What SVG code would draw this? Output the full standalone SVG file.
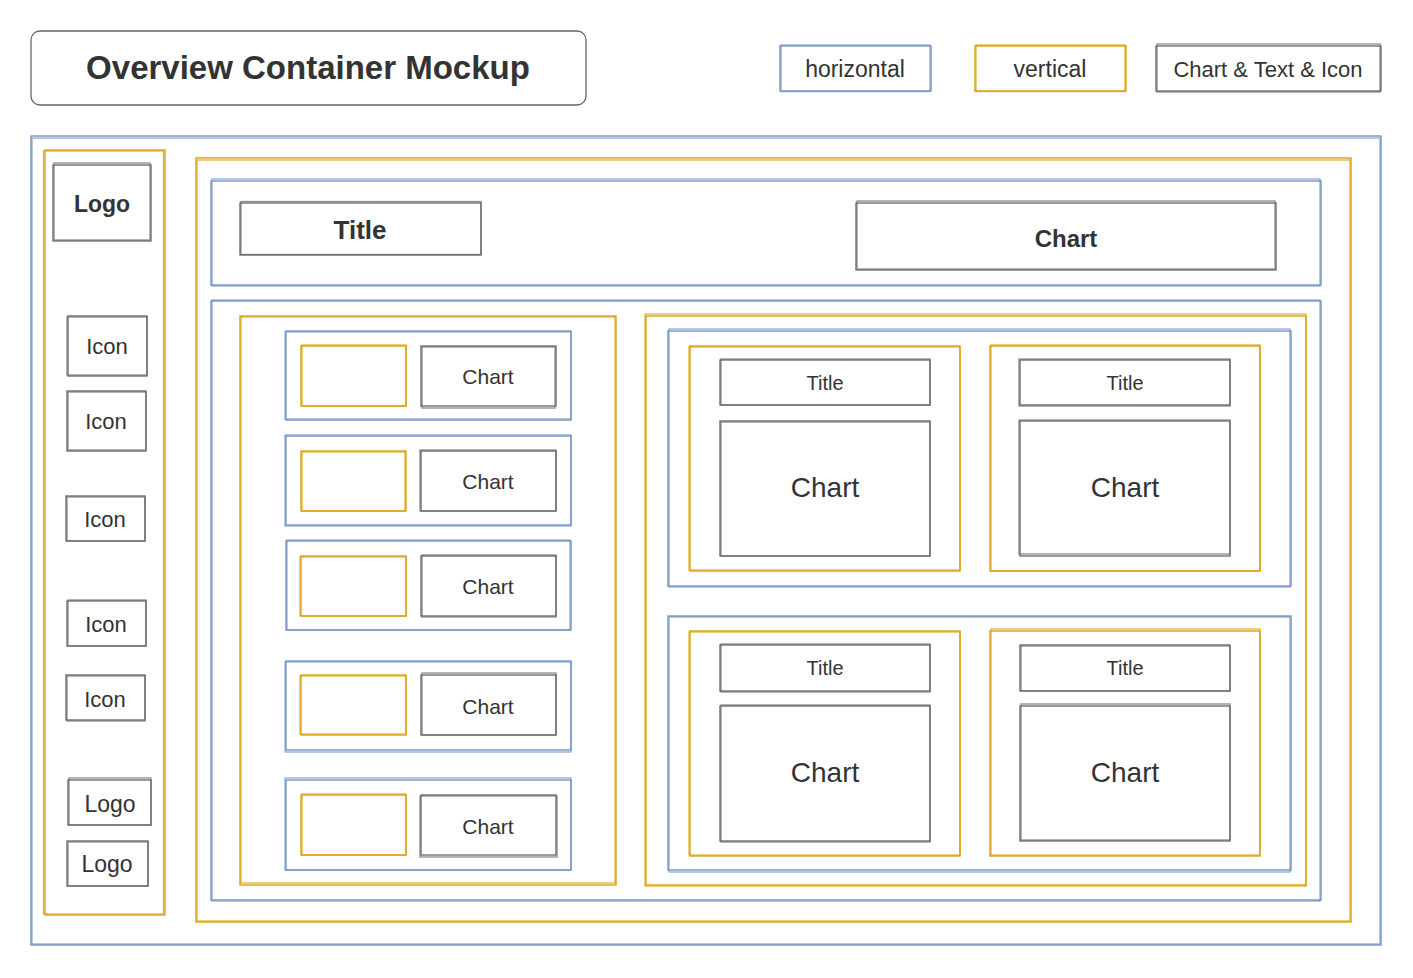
<svg xmlns="http://www.w3.org/2000/svg" width="1413" height="978" viewBox="0 0 1413 978">
<style>
rect{fill:none;stroke-width:1.3}
.h{stroke:#6c8ebf}
.v{stroke:#d79b00}
.c{stroke:#666666}
.j{opacity:.75}
text{font-family:"Liberation Sans",Arial,sans-serif;fill:#333333;text-anchor:middle;dominant-baseline:central}
.b{font-weight:bold}
</style>
<rect width="1413" height="978" fill="#ffffff" stroke="none"/>
<g id="header">
<rect x="31" y="31" width="555" height="74" rx="9" stroke="#666666" stroke-width="2" fill="#ffffff"/>
<text x="308" y="67" class="b" font-size="33">Overview Container Mockup</text>
</g>
<g id="legend-horizontal"><rect class="h" x="780" y="46" width="151" height="45"/><rect class="h j" x="781" y="45" width="149" height="46.5"/><text x="855" y="69" font-size="23" fill="#000">horizontal</text></g>
<g id="legend-vertical"><rect class="v" x="975" y="46" width="151" height="45"/><rect class="v j" x="976" y="45" width="149" height="46.5"/><text x="1050" y="69" font-size="23" fill="#000">vertical</text></g>
<g id="legend-chart"><rect class="c" x="1156" y="46" width="225" height="45"/><rect class="c j" x="1157" y="44" width="223" height="48"/><text x="1268" y="69" font-size="22">Chart &amp; Text &amp; Icon</text></g>

<g id="outer"><rect class="h" x="31" y="136" width="1350" height="809"/><rect class="h j" x="32" y="138" width="1348" height="806"/></g>

<g id="sidebar"><rect class="v" x="45" y="150" width="120" height="765"/><rect class="v j" x="43.5" y="151" width="120" height="763"/></g>
<g id="side-logo"><rect class="c" x="53" y="165" width="98" height="76"/><rect class="c j" x="54" y="163" width="96" height="77"/><text x="102" y="204" class="b" font-size="23">Logo</text></g>
<g id="icon1"><rect class="c" x="68" y="316" width="79" height="60"/><rect class="c j" x="67" y="317" width="80" height="58"/><text x="107" y="346" font-size="22">Icon</text></g>
<g id="icon2"><rect class="c" x="67" y="391" width="79" height="60"/><rect class="c j" x="68" y="392" width="78" height="58"/><text x="106" y="421" font-size="22">Icon</text></g>
<g id="icon3"><rect class="c" x="66" y="496" width="79" height="45"/><rect class="c j" x="67" y="497" width="78" height="44"/><text x="105" y="519" font-size="22">Icon</text></g>
<g id="icon4"><rect class="c" x="67" y="601" width="79" height="45"/><rect class="c j" x="68" y="600" width="78" height="46"/><text x="106" y="624" font-size="22">Icon</text></g>
<g id="icon5"><rect class="c" x="66" y="675" width="79" height="45"/><rect class="c j" x="67" y="676" width="78" height="45"/><text x="105" y="699" font-size="22">Icon</text></g>
<g id="logo2"><rect class="c" x="68" y="780" width="83" height="45"/><rect class="c j" x="69" y="778" width="82" height="47"/><text x="110" y="804" font-size="23">Logo</text></g>
<g id="logo3"><rect class="c" x="67" y="841" width="81" height="45"/><rect class="c j" x="68" y="842" width="80" height="44"/><text x="107" y="864" font-size="23">Logo</text></g>

<g id="main"><rect class="v" x="196" y="158" width="1155" height="764"/><rect class="v j" x="197" y="160" width="1153" height="761"/></g>
<g id="top-row"><rect class="h" x="211" y="181" width="1110" height="104"/><rect class="h j" x="212" y="179" width="1108" height="107"/></g>
<g id="top-title"><rect class="c" x="240" y="203" width="241" height="52"/><rect class="c j" x="241" y="201.5" width="240" height="53"/><text x="360" y="230" class="b" font-size="26">Title</text></g>
<g id="top-chart"><rect class="c" x="856" y="203" width="420" height="67"/><rect class="c j" x="857" y="201" width="418" height="68"/><text x="1066" y="238" class="b" font-size="24">Chart</text></g>

<g id="bottom-row"><rect class="h" x="211" y="301" width="1110" height="599"/><rect class="h j" x="212" y="300" width="1108" height="601"/></g>
<g id="list-col"><rect class="v" x="240" y="316" width="376" height="569"/><rect class="v j" x="241" y="317" width="374" height="566"/></g>

<g id="item1"><rect class="h" x="286" y="331" width="285" height="89"/><rect class="h j" x="285" y="332" width="286" height="87"/>
<rect class="v" x="301" y="346" width="105" height="60"/><rect class="v j" x="302" y="345" width="104" height="61"/>
<rect class="c" x="421" y="346" width="135" height="60"/><rect class="c j" x="422" y="347" width="133" height="61"/><text x="488" y="376" font-size="21">Chart</text></g>
<g id="item2"><rect class="h" x="286" y="436" width="285" height="89"/><rect class="h j" x="285" y="435" width="286" height="91"/>
<rect class="v" x="301" y="451" width="105" height="60"/><rect class="v j" x="302" y="452" width="103" height="59"/>
<rect class="c" x="421" y="451" width="135" height="60"/><rect class="c j" x="420" y="450" width="136" height="61"/><text x="488" y="481" font-size="21">Chart</text></g>
<g id="item3"><rect class="h" x="286" y="541" width="285" height="89"/><rect class="h j" x="287" y="540" width="283" height="90"/>
<rect class="v" x="301" y="556" width="105" height="60"/><rect class="v j" x="300" y="557" width="106" height="59"/>
<rect class="c" x="421" y="556" width="135" height="60"/><rect class="c j" x="422" y="555" width="134" height="62"/><text x="488" y="586" font-size="21">Chart</text></g>
<g id="item4"><rect class="h" x="286" y="661" width="285" height="89"/><rect class="h j" x="285" y="662" width="286" height="90"/>
<rect class="v" x="301" y="675" width="105" height="60"/><rect class="v j" x="300" y="676" width="106" height="58"/>
<rect class="c" x="421" y="675" width="135" height="60"/><rect class="c j" x="422" y="673" width="134" height="62"/><text x="488" y="706" font-size="21">Chart</text></g>
<g id="item5"><rect class="h" x="286" y="780" width="285" height="90"/><rect class="h j" x="285" y="778" width="286" height="92"/>
<rect class="v" x="301" y="795" width="105" height="60"/><rect class="v j" x="302" y="794" width="104" height="61"/>
<rect class="c" x="421" y="795" width="135" height="60"/><rect class="c j" x="420" y="796" width="137" height="61"/><text x="488" y="826" font-size="21">Chart</text></g>

<g id="grid-col"><rect class="v" x="646" y="316" width="660" height="569"/><rect class="v j" x="645" y="314" width="661" height="572"/></g>
<g id="grid-top"><rect class="h" x="668" y="331" width="623" height="255"/><rect class="h j" x="669" y="329" width="621" height="258"/></g>
<g id="card-a"><rect class="v" x="690" y="346" width="270" height="225"/><rect class="v j" x="689" y="347" width="271" height="223"/>
<rect class="c" x="720" y="360" width="210" height="45"/><rect class="c j" x="721" y="359" width="209" height="46"/><text x="825" y="383" font-size="20">Title</text>
<rect class="c" x="720" y="421" width="210" height="135"/><rect class="c j" x="721" y="422" width="209" height="134"/><text x="825" y="487" font-size="28">Chart</text></g>
<g id="card-b"><rect class="v" x="990" y="346" width="270" height="225"/><rect class="v j" x="991" y="345" width="269" height="226"/>
<rect class="c" x="1020" y="360" width="210" height="45"/><rect class="c j" x="1019" y="359" width="211" height="47"/><text x="1125" y="383" font-size="20">Title</text>
<rect class="c" x="1020" y="421" width="210" height="135"/><rect class="c j" x="1019" y="420" width="211" height="134"/><text x="1125" y="487" font-size="28">Chart</text></g>
<g id="grid-bottom"><rect class="h" x="668" y="616" width="623" height="254"/><rect class="h j" x="669" y="617" width="621" height="255"/></g>
<g id="card-c"><rect class="v" x="690" y="631" width="270" height="225"/><rect class="v j" x="689" y="632" width="271" height="223"/>
<rect class="c" x="720" y="645" width="210" height="46"/><rect class="c j" x="721" y="644" width="209" height="48"/><text x="825" y="668" font-size="20">Title</text>
<rect class="c" x="720" y="706" width="210" height="135"/><rect class="c j" x="721" y="705" width="209" height="137"/><text x="825" y="772" font-size="28">Chart</text></g>
<g id="card-d"><rect class="v" x="990" y="631" width="270" height="225"/><rect class="v j" x="991" y="629" width="269" height="226"/>
<rect class="c" x="1020" y="645" width="210" height="46"/><rect class="c j" x="1021" y="646" width="209" height="45"/><text x="1125" y="668" font-size="20">Title</text>
<rect class="c" x="1020" y="706" width="210" height="135"/><rect class="c j" x="1021" y="704" width="209" height="136"/><text x="1125" y="772" font-size="28">Chart</text></g>
<g id="connectors"/>
</svg>
